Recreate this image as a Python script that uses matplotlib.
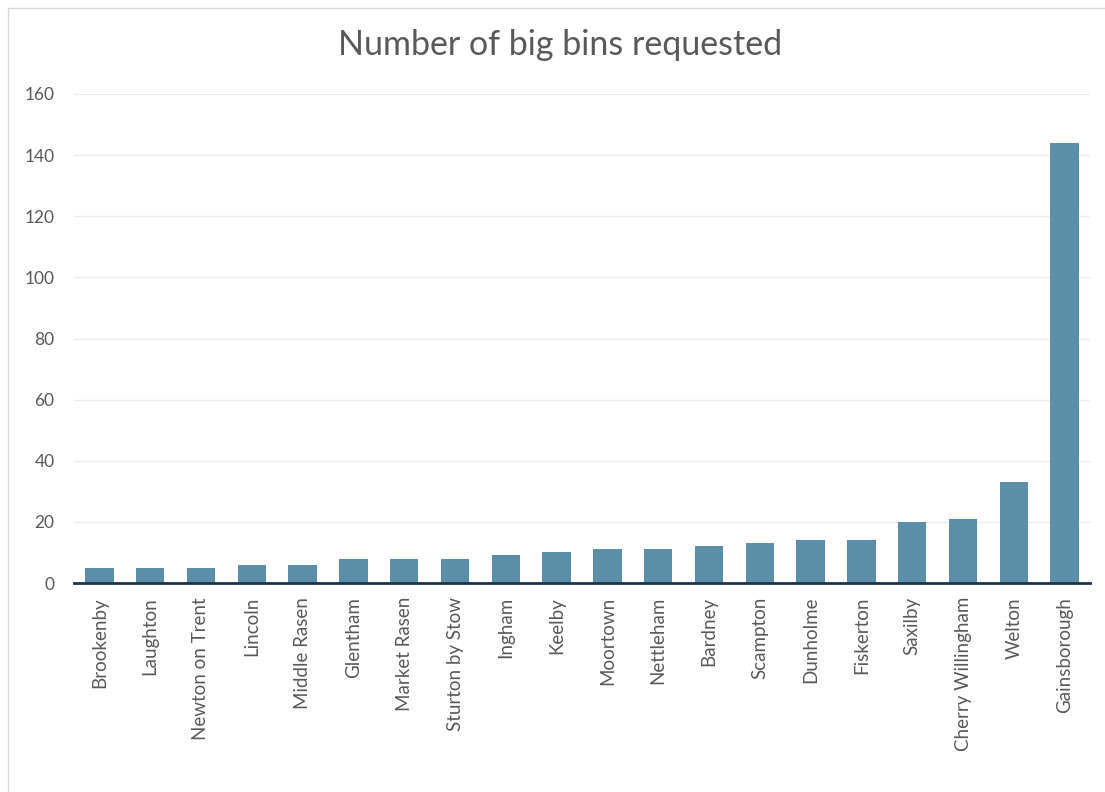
import matplotlib.pyplot as plt
from matplotlib.lines import Line2D

towns = ["Brookenby", "Laughton", "Newton on Trent", "Lincoln", "Middle Rasen",
         "Glentham", "Market Rasen", "Sturton by Stow", "Ingham", "Keelby",
         "Moortown", "Nettleham", "Bardney", "Scampton", "Dunholme",
         "Fiskerton", "Saxilby", "Cherry Willingham", "Welton", "Gainsborough"]
bins = [5, 5, 5, 6, 6, 8, 8, 8, 9, 10, 11, 11, 12, 13, 14, 14, 20, 21, 33, 144]
yticks = [0, 20, 40, 60, 80, 100, 120, 140, 160]

grey = "#595959"
plt.rcParams['font.family'] = ['Lato', 'DejaVu Sans']

fig = plt.figure(figsize=(11.05, 7.92), dpi=100)
ax = fig.add_axes([74 / 1105, 1 - 583 / 792, (1090 - 74) / 1105, (583 - 94) / 792])

x = range(len(towns))
ax.bar(x, bins, width=0.56, color="#5B8FA8", zorder=3)

ax.set_xlim(-0.5, len(towns) - 0.5)
ax.set_ylim(0, 160)
ax.set_yticks(yticks)
ax.set_yticklabels([str(t) for t in yticks], color=grey, fontsize=12.5)
ax.set_xticks(list(x))
ax.set_xticklabels(towns, rotation=90, color=grey, fontsize=13.5)
ax.tick_params(axis="both", length=0, pad=10)
ax.tick_params(axis="y", pad=14)

ax.grid(axis="y", color="#EBEBEB", linewidth=1, zorder=0)
for s in ["left", "right", "top"]:
    ax.spines[s].set_visible(False)
ax.spines["bottom"].set_color("#1B3550")
ax.spines["bottom"].set_linewidth(2)
ax.spines["bottom"].set_zorder(4)

fig.text(560 / 1105, 1 - 45 / 792, "Number of big bins requested",
         ha="center", va="center", fontsize=24.5, color=grey)

# light frame round the chart area
fig.add_artist(Line2D([8 / 1105, 1], [1 - 8 / 792, 1 - 8 / 792], color="#D9D9D9", lw=1))
fig.add_artist(Line2D([8 / 1105, 8 / 1105], [0, 1 - 8 / 792], color="#D9D9D9", lw=1))

fig.savefig("out.png", dpi=100, facecolor="white")
